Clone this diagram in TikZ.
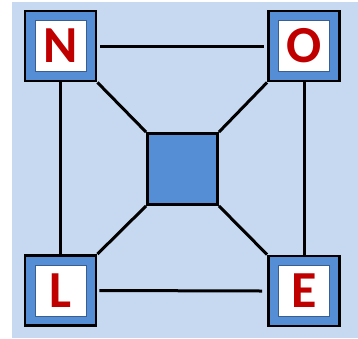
\documentclass[tikz,border=0pt]{standalone}
\usepackage{fontspec}
\setmainfont{Carlito}
\definecolor{bgblue}{HTML}{C6D9F1}
\definecolor{boxblue}{HTML}{558ED5}
\definecolor{edgeblue}{HTML}{3A5F8E}
\definecolor{letterred}{HTML}{C00000}
\begin{document}
\begin{tikzpicture}[x=1pt,y=-1pt,
  outerbox/.style={draw=black,line width=2.8pt,fill=boxblue,minimum width=71pt,minimum height=70pt,inner sep=0pt},
  innerbox/.style={draw=edgeblue,line width=1pt,fill=white,minimum width=51pt,minimum height=51pt,inner sep=0pt,
    font=\fontsize{52}{52}\selectfont\bfseries,text=letterred},
  link/.style={draw=black,line width=3pt}]
\useasboundingbox (0,0) rectangle (358,338);
\fill[bgblue] (12,2) rectangle (358,338);
% outer boxes
\node[outerbox] (N) at (60.5,46) {};
\node[outerbox] (O) at (304,46) {};
\node[outerbox] (L) at (60.5,290.5) {};
\node[outerbox] (E) at (304,291) {};
\node[outerbox,minimum width=70pt,minimum height=71pt] (C) at (182.5,169) {};
% inner letters
\node[innerbox] (Nl) at (N.center) {N};
\node[innerbox] (Ol) at (O.center) {O};
\node[innerbox] (Ll) at (L.center) {L};
\node[innerbox] (El) at (E.center) {E};
% connectors
\coordinate (n1) at ([xshift=3pt]N.east);
\coordinate (o1) at ([xshift=-3pt]O.west);
\coordinate (l1) at ([xshift=2pt]L.east);
\coordinate (e1) at ([xshift=-5pt]E.west);
\draw[link] (n1) -- (o1);
\draw[link] (l1) -- (e1);
\draw[link] (N.south) -- (L.north);
\draw[link] (O.south) -- (E.north);
\draw[link] (N.south east) -- (C.north west);
\draw[link] (O.south west) -- (C.north east);
\draw[link] (L.north east) -- (C.south west);
\draw[link] (E.north west) -- (C.south east);
\end{tikzpicture}
\end{document}
